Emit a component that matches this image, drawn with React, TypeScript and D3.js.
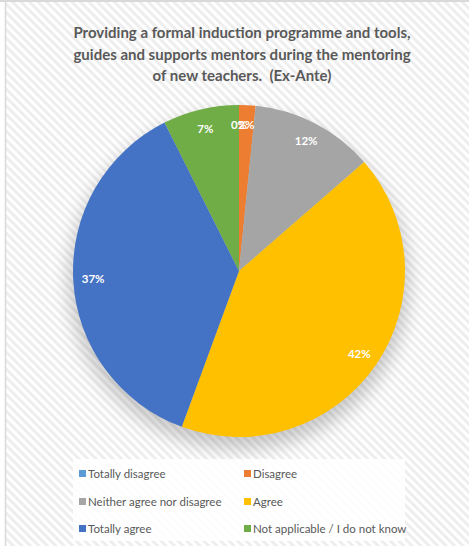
import React from "react";
import * as d3 from "d3";

const categories = [
  "Totally disagree",
  "Disagree",
  "Neither agree nor disagree",
  "Agree",
  "Totally agree",
  "Not applicable / I do not know",
];
const values = [0, 1.6, 12, 42, 37, 7.4];
const colors = ["#5B9BD5", "#ED7D31", "#A5A5A5", "#FFC000", "#4472C4", "#70AD47"];
const titleLines = [
  "Providing a formal induction programme and tools,",
  "guides and supports mentors during the mentoring",
  "of new teachers.  (Ex-Ante)",
];

const W = 469;
const H = 546;
const cx = 239;
const cy = 271;
const R = 166;
const FONT = "Lato, 'Open Sans', sans-serif";

export default function App() {
  const total = d3.sum(values);
  const pie = d3.pie<number>().sort(null).value((d) => d);
  const arcs = pie(values);
  const arc = d3.arc<d3.PieArcDatum<number>>().innerRadius(0).outerRadius(R);
  const labelArc = d3.arc<d3.PieArcDatum<number>>().innerRadius(R * 0.88).outerRadius(R * 0.88);
  const fmt = d3.format(".0%");

  const legendX = [79, 244];
  const legendY = [474, 502, 529];

  return (
    <svg
      width={W}
      height={H}
      style={{ position: "absolute", left: 0, top: 0, display: "block" }}
      fontFamily={FONT}
    >
      <defs>
        <pattern id="stripes" width="6" height="6" patternUnits="userSpaceOnUse" patternTransform="rotate(-45)">
          <rect width="6" height="6" fill="#ffffff" />
          <rect width="3" height="6" fill="#eeeeee" />
        </pattern>
        <filter id="blur" x="-30%" y="-30%" width="160%" height="160%">
          <feGaussianBlur stdDeviation="9" />
        </filter>
      </defs>
      <rect x={0} y={0} width={W} height={H} fill="#ffffff" />
      <rect x={6} y={2} width={W - 6} height={H - 2} fill="url(#stripes)" />
      <line x1={0} x2={W} y1={1} y2={1} stroke="#d9d9d9" strokeWidth={2} />
      <line x1={5.5} x2={5.5} y1={0} y2={H} stroke="#d9d9d9" strokeWidth={1.5} />

      {titleLines.map((t, i) => (
        <text
          key={i}
          x={242}
          y={38 + i * 21.5}
          textAnchor="middle"
          fontSize={15}
          fontWeight="bold"
          fill="#595959"
          style={{ whiteSpace: "pre" }}
        >
          {t}
        </text>
      ))}

      <ellipse cx={cx} cy={cy + 10} rx={R + 4} ry={R + 2} fill="#000" opacity={0.2} filter="url(#blur)" />

      <g transform={`translate(${cx},${cy})`}>
        {arcs.map((a, i) => (
          <path key={i} d={arc(a) || ""} fill={colors[i]} />
        ))}
        {arcs.map((a, i) => {
          const [lx, ly] = labelArc.centroid(a);
          return (
            <text
              key={"l" + i}
              x={lx}
              y={ly}
              dy="0.35em"
              textAnchor="middle"
              fontSize={11.5}
              fontWeight="bold"
              fill="#ffffff"
            >
              {fmt(values[i] / total)}
            </text>
          );
        })}
      </g>

      <rect x={73} y={459} width={332} height={82} fill="#ffffff" opacity={0.85} />
      {categories.map((c, i) => {
        const x = legendX[i % 2];
        const y = legendY[Math.floor(i / 2)];
        return (
          <g key={c}>
            <rect x={x} y={y - 4} width={7} height={7} fill={colors[i]} />
            <text x={x + 9} y={y} dy="0.35em" fontSize={11.5} fill="#595959">
              {c}
            </text>
          </g>
        );
      })}
    </svg>
  );
}
